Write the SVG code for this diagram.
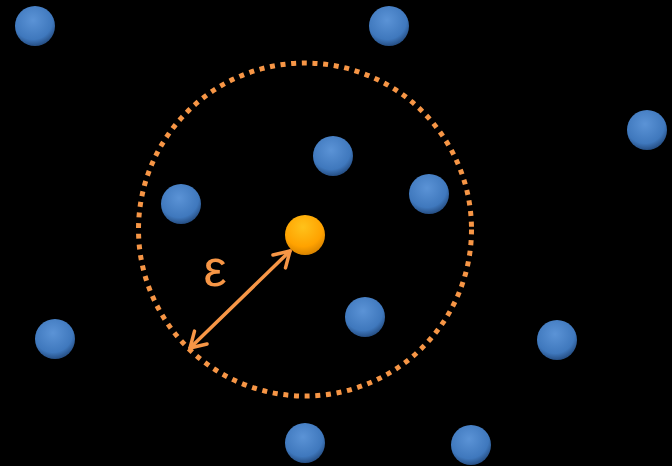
<svg xmlns="http://www.w3.org/2000/svg" width="672" height="466" viewBox="0 0 672 466">
<style>
.ball{stroke:none}
.conn{stroke:#F79646;stroke-width:3.5;fill:none;stroke-linecap:round;stroke-linejoin:round}
.lbl{font-family:"Liberation Sans",Arial,sans-serif;font-size:52px;fill:#F79646}
</style>
<defs>
<radialGradient id="gb" cx="0.45" cy="0.35" r="0.65">
<stop offset="0" stop-color="#5B93D6"/>
<stop offset="0.75" stop-color="#3F78BD"/>
<stop offset="1" stop-color="#264F85"/>
</radialGradient>
<radialGradient id="go" cx="0.45" cy="0.3" r="0.7">
<stop offset="0" stop-color="#FFC21A"/>
<stop offset="0.7" stop-color="#FFA200"/>
<stop offset="1" stop-color="#D98400"/>
</radialGradient>
<marker id="ah" viewBox="0 0 24 24" refX="19" refY="12" markerWidth="24" markerHeight="24" markerUnits="userSpaceOnUse" orient="auto-start-reverse">
<path d="M4,3 L19,12 L4,21" fill="none" stroke="#F79646" stroke-width="3.5" stroke-linecap="round" stroke-linejoin="round"/>
</marker>
</defs>
<rect width="672" height="466" fill="#000"/>
<g id="radius-circle">
<circle cx="305" cy="229.5" r="166.5" fill="none" stroke="#F79646" stroke-width="5" stroke-dasharray="5 5.7"/>
</g>
<g id="connectors">
<line class="conn" x1="190" y1="348" x2="290" y2="251" marker-start="url(#ah)" marker-end="url(#ah)"/>
</g>
<g id="label-eps"><text class="lbl" x="215" y="286" text-anchor="middle">ε</text></g>
<g id="p1"><circle class="ball" cx="35" cy="26" r="20" fill="url(#gb)"/></g>
<g id="p2"><circle class="ball" cx="389" cy="26" r="20" fill="url(#gb)"/></g>
<g id="p3"><circle class="ball" cx="647" cy="130" r="20" fill="url(#gb)"/></g>
<g id="p4"><circle class="ball" cx="333" cy="156" r="20" fill="url(#gb)"/></g>
<g id="p5"><circle class="ball" cx="429" cy="194" r="20" fill="url(#gb)"/></g>
<g id="p6"><circle class="ball" cx="181" cy="204" r="20" fill="url(#gb)"/></g>
<g id="p7"><circle class="ball" cx="365" cy="317" r="20" fill="url(#gb)"/></g>
<g id="p8"><circle class="ball" cx="55" cy="339" r="20" fill="url(#gb)"/></g>
<g id="p9"><circle class="ball" cx="557" cy="340" r="20" fill="url(#gb)"/></g>
<g id="p10"><circle class="ball" cx="305" cy="443" r="20" fill="url(#gb)"/></g>
<g id="p11"><circle class="ball" cx="471" cy="445" r="20" fill="url(#gb)"/></g>
<g id="center"><circle class="ball" cx="305" cy="235" r="20" fill="url(#go)"/></g>
</svg>
